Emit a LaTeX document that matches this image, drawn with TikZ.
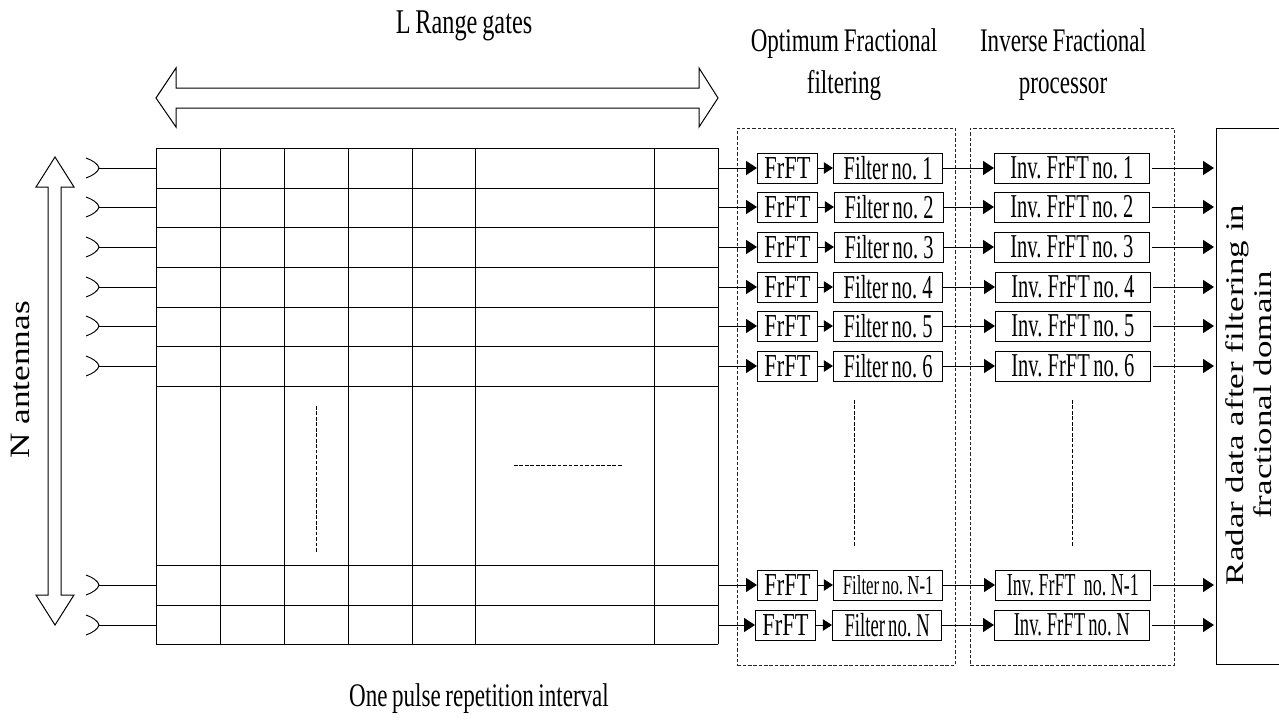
\documentclass[tikz,border=0pt]{standalone}
\usepackage{fontspec}
\setmainfont{Liberation Serif}
\newfontfamily\condfont[FakeStretch=0.615,WordSpace=0.68]{Liberation Serif}
\newfontfamily\narrowfont[FakeStretch=0.56,WordSpace=0.68]{Liberation Serif}
\newfontfamily\headfont[FakeStretch=0.70,WordSpace=0.8]{Liberation Serif}
\newfontfamily\widefont[FakeStretch=1.26]{Liberation Serif}
\newfontfamily\sidefont[FakeStretch=1.38]{Liberation Serif}
\usetikzlibrary{arrows.meta,calc}
\tikzset{
  wire/.style={line width=0.75pt,draw=black},
  gridline/.style={line width=0.75pt,draw=black},
  bigarrow/.style={line width=0.75pt,draw=black,fill=white,line join=miter},
  flow/.style={wire,-{Triangle[length=8.2pt,width=10.5pt]}},
  smallflow/.style={wire,-{Triangle[length=6.8pt,width=8.5pt]}},
  dashbox/.style={line width=0.7pt,draw=black!85,dash pattern=on 2.6pt off 1.4pt},
  fine/.style={line width=0.75pt,draw=black,dash pattern=on 2.8pt off 1.3pt},
  procbox/.style={draw=black,line width=0.75pt,minimum height=22.5pt,inner sep=0pt,fill=white,
    font=\condfont\fontsize{25}{27}\selectfont},
  headtext/.style={inner sep=0pt,align=center,font=\headfont\fontsize{24.7}{31.5}\selectfont},
  sidetext/.style={inner sep=0pt,align=center,rotate=90,font=\sidefont\fontsize{19}{21}\selectfont}
}
\begin{document}
\begin{tikzpicture}[x=0.75pt,y=-0.75pt]
\useasboundingbox (0,0) rectangle (1279,722);
% grid
\foreach \gx in {156,220,284,348,412,475,654,718} \draw[gridline] (\gx,148) -- (\gx,644);
\foreach \gy in {148,188,227,267,307,346,386,565,605,644} \draw[gridline] (156,\gy) -- (718,\gy);
\draw[fine] (316,406) -- (316,552);
\draw[fine] (514,465) -- (622,465);
% big arrows
\draw[bigarrow] (156,98) -- (176,68) -- (176,88) -- (699,88) -- (699,68) -- (718,98) -- (699,127) -- (699,108) -- (176,108) -- (176,127) -- cycle;
\draw[bigarrow] (55,157) -- (74,187) -- (61,187) -- (61,595) -- (74,595) -- (55,625) -- (36,595) -- (48,595) -- (48,187) -- (36,187) -- cycle;
% dashed frames
\node[dashbox,draw,minimum width=163.5pt,minimum height=402.75pt,inner sep=0pt,anchor=north west] (frameA) at (737,127.5) {};
\node[dashbox,draw,minimum width=153pt,minimum height=402.75pt,inner sep=0pt,anchor=north west] (frameB) at (970,127.5) {};
\draw[fine] (854,400) -- (854,546);
\draw[fine] (1072,400) -- (1072,546);
% output box
\draw[wire] (1279,128) -- (1216,128) -- (1216,664) -- (1279,664);
% rows: id/y/FrFT left/filter left/inv left/filter label/inv label
\foreach \i/\ry/\fa/\fb/\fc/\la/\lb in {
  1/168/757/833/994/{Filter no. 1}/{Inv. FrFT no. 1},
  2/207/757/834/994/{Filter no. 2}/{Inv. FrFT no. 2},
  3/247/757/834/994/{Filter no. 3}/{Inv. FrFT no. 3},
  4/287/757/833/995/{Filter no. 4}/{Inv. FrFT no. 4},
  5/326/757/833/995/{Filter no. 5}/{Inv. FrFT no. 5},
  6/366/757/833/995/{Filter no. 6}/{Inv. FrFT no. 6},
  7/585/757/833/995/{\fontsize{20.5}{22}\selectfont Filter no. N-1}/{\narrowfont\fontsize{24}{26}\selectfont Inv. FrFT\, no. N-1},
  8/625/755/832/994/{\narrowfont Filter no. N}/{\narrowfont Inv. FrFT no. N}}{
  \coordinate (ant\i) at (99,\ry);
  \coordinate (gin\i) at (156,\ry);
  \coordinate (gout\i) at (718,\ry);
  \coordinate (out\i) at (1216,\ry);
  \draw[wire] (ant\i) -- (gin\i);
  \draw[line width=0.7pt] ($(ant\i)+(-13,-10)$) .. controls +(7,2.5) and +(-1,-4) .. (ant\i) .. controls +(-1,4) and +(7,-2.5) .. ($(ant\i)+(-13,10)$);
  \node[procbox,anchor=west,minimum width=45pt,font=\headfont\fontsize{24}{26}\selectfont] (fr\i) at (\fa,\ry) {FrFT};
  \node[procbox,anchor=west,minimum width=82pt] (fil\i) at (\fb,\ry) {\la};
  \node[procbox,anchor=west,minimum width=116pt] (inv\i) at (\fc,\ry) {\lb};
  \draw[flow] (gout\i) -- (fr\i.west);
  \draw[smallflow] (fr\i.east) -- (fil\i.west);
  \draw[flow] (fil\i.east) -- (inv\i.west);
  \draw[flow,shorten <=2pt,shorten >=1.5pt] (inv\i.east) -- (out\i);
}
% labels
\node[headtext,font=\headfont\fontsize{26}{31.5}\selectfont] (t1) at (464,26) {L Range gates};
\node[headtext] (t2) at (844,65) {Optimum Fractional\\filtering};
\node[headtext] (t3) at (1063,65) {Inverse Fractional\\processor};
\node[headtext] (t4) at (479,699) {One pulse repetition interval};
\node[sidetext,font=\widefont\fontsize{21}{23}\selectfont] (t5) at (20,380) {N antennas};
\node[sidetext] (t6) at (1249,395) {Radar data after filtering in\\fractional domain};
\end{tikzpicture}
\end{document}
